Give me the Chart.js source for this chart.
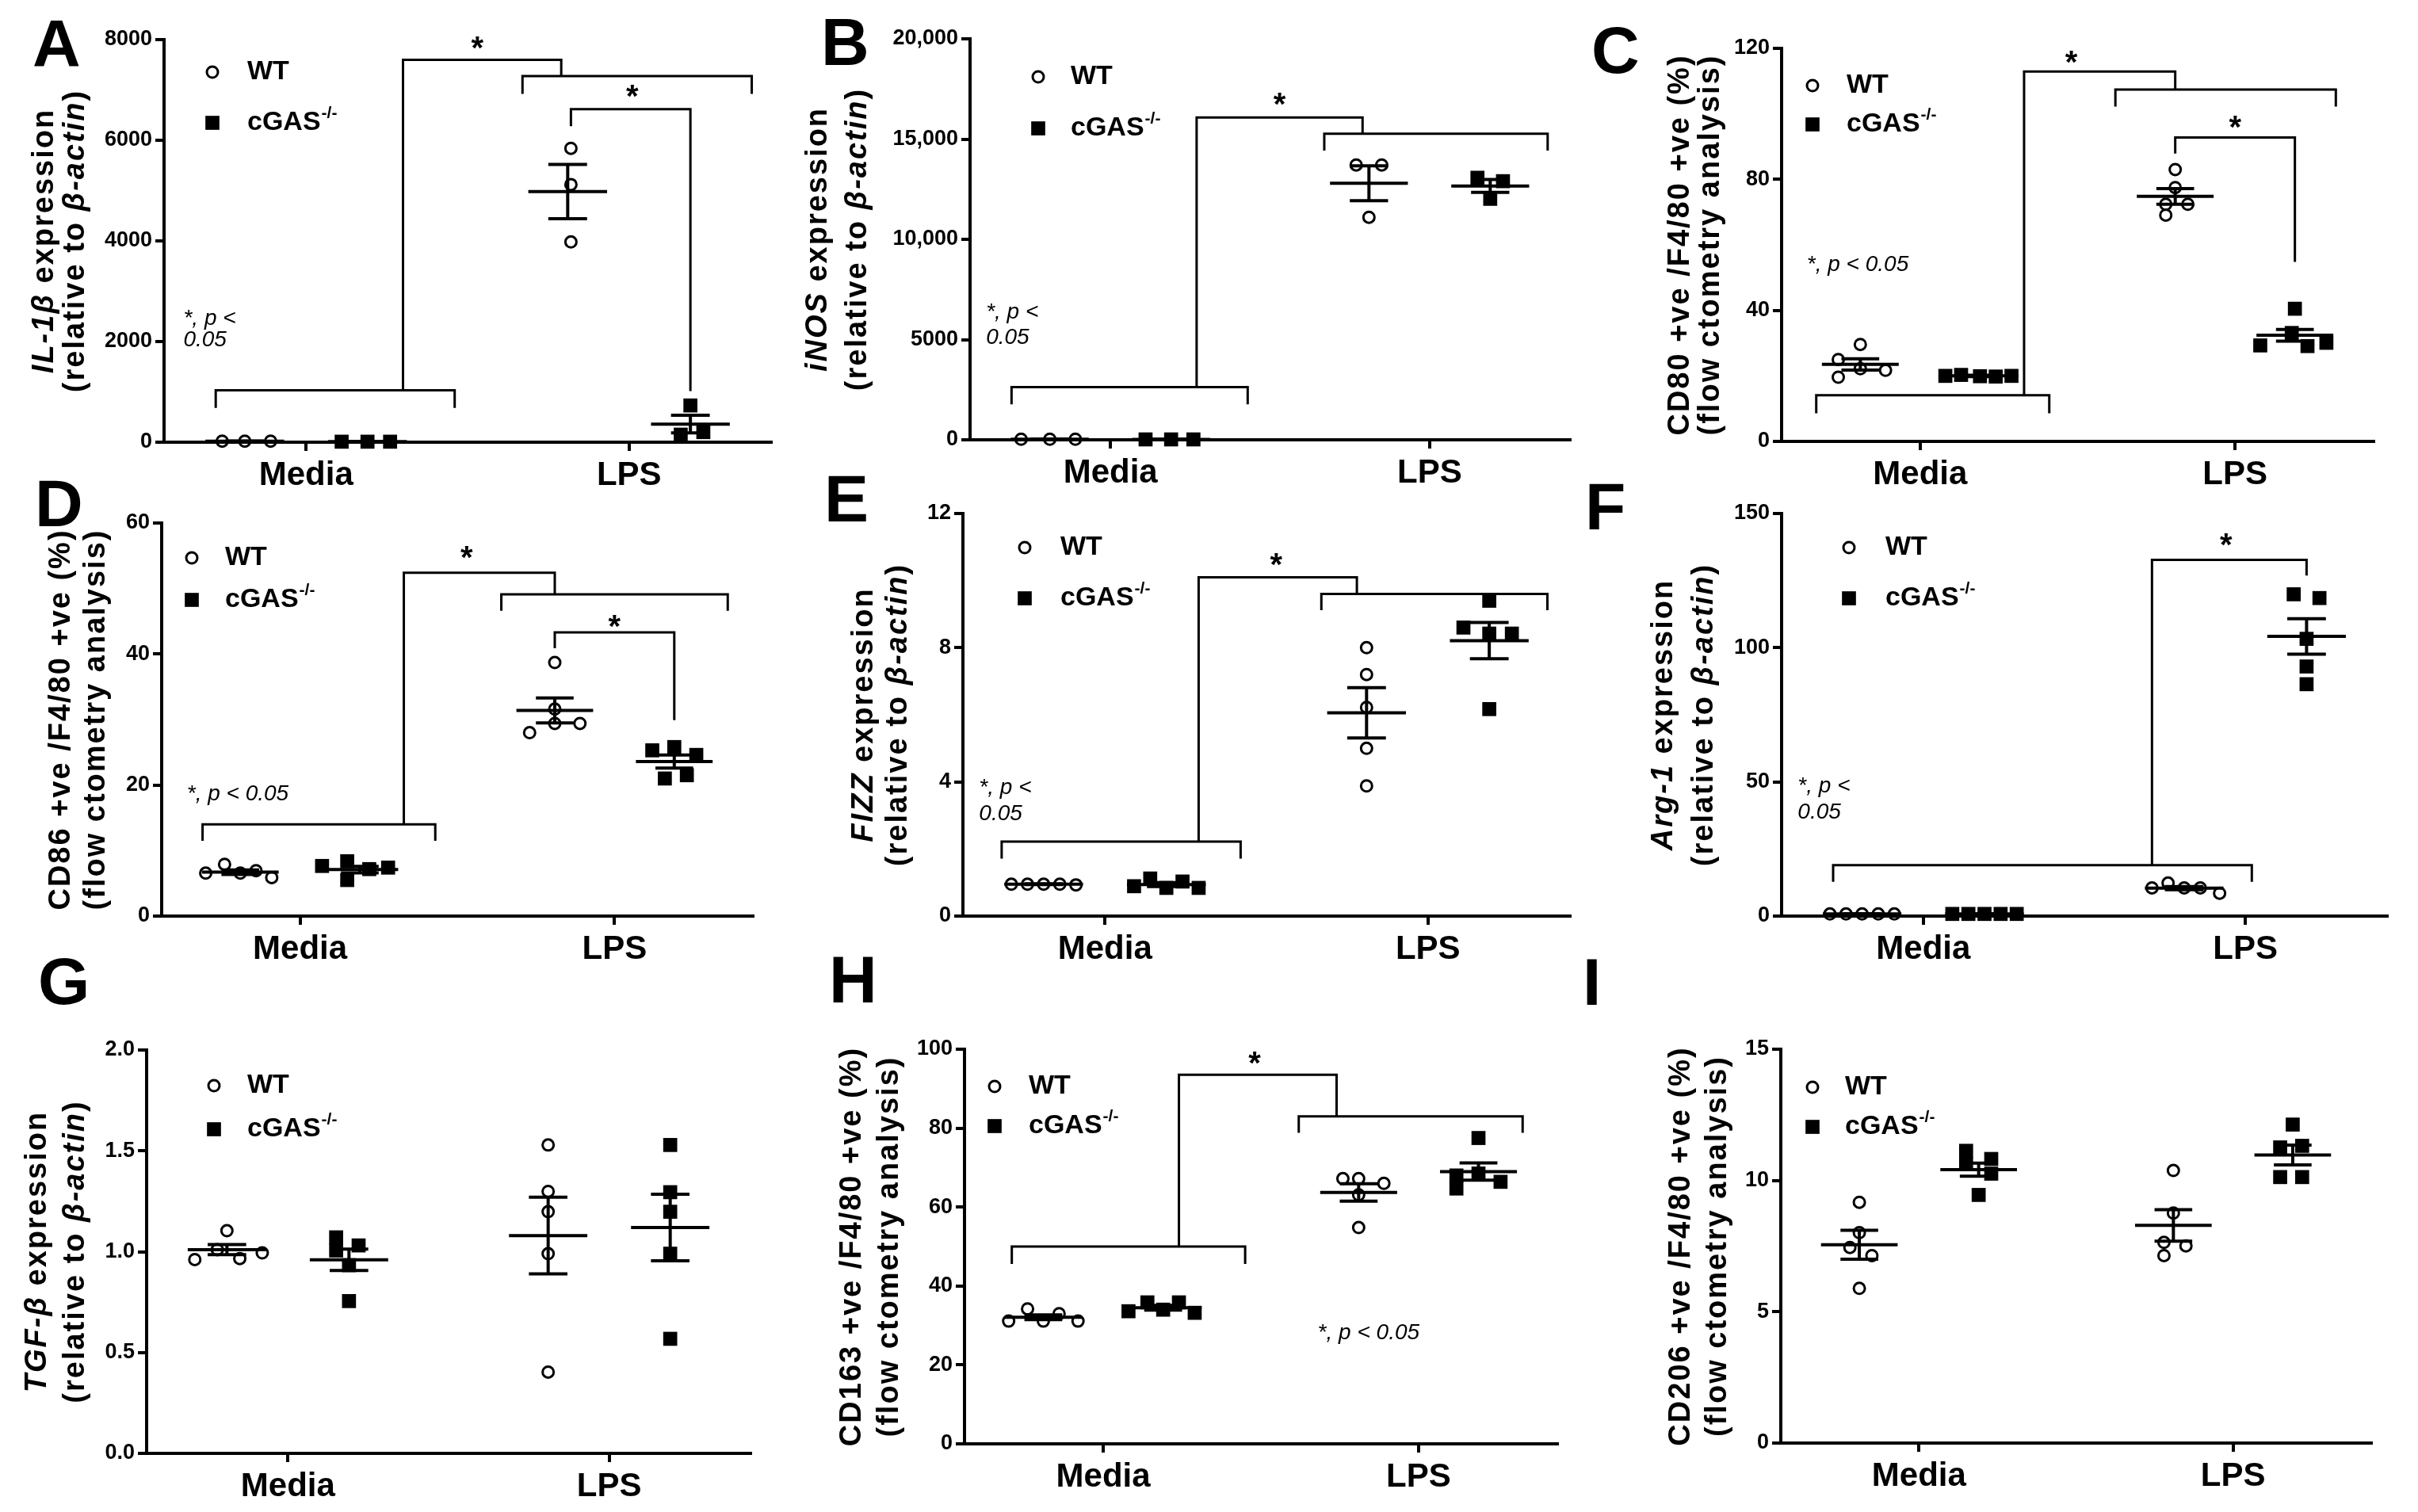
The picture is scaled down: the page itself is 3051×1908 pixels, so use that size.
<!DOCTYPE html>
<html>
<head>
<meta charset="utf-8">
<script src="https://cdn.jsdelivr.net/npm/chart.js@4.4.0/dist/chart.umd.min.js"></script>
<style>
html, body { margin: 0; padding: 0; background: #fff; }
body { width: 3051px; height: 1908px; position: relative; overflow: hidden; }
canvas { position: absolute; }
.lbl { position: absolute; font: bold 84px 'Liberation Sans', Arial, sans-serif; line-height: 84px; color: #000; }
</style>
</head>
<body>
<script>
const FONT = "'Liberation Sans', Arial, sans-serif";
const categories = ['Media', 'LPS'];
const legendLabels = ['WT', 'cGAS', '-/-'];

// --- Panel A: IL-1b ---  [Media, LPS]
const A_wt = [[20, 20, 20], [5840, 5120, 3980]];
const A_ko = [[10, 10, 10], [730, 150, 200]];
const A_wtX = [[-0.26, -0.19, -0.11], [-0.18, -0.18, -0.18]];
const A_koX = [[0.11, 0.19, 0.26], [0.19, 0.16, 0.23]];
const A_mean = [[20, 4980], [10, 360]];   // [WT, KO]
const A_sem = [[5, 540], [3, 175]];
const A_ticks = [0, 2000, 4000, 6000, 8000];
const A_tickLabels = ['0', '2000', '4000', '6000', '8000'];
const A_brackets = [
    [[-0.28, 680], [-0.28, 1030], [0.46, 1030], [0.46, 680]],
    [[0.67, 6920], [0.67, 7275], [1.38, 7275], [1.38, 6920]],
    [[0.30, 1030], [0.30, 7600], [0.79, 7600], [0.79, 7275]],
    [[0.82, 6280], [0.82, 6620], [1.19, 6620], [1.19, 1015]]
];
const A_stars = [[0.53, 7980], [1.01, 7020]];
const A_note = [['*, p <', -0.38, 2460], ['0.05', -0.38, 2030]];

// --- Panel B: iNOS ---
const B_wt = [[30, 30, 30], [13710, 13710, 11100]];
const B_ko = [[20, 20, 20], [13070, 12900, 12020]];
const B_wtX = [[-0.28, -0.19, -0.11], [-0.23, -0.15, -0.19]];
const B_koX = [[0.11, 0.19, 0.26], [0.15, 0.23, 0.19]];
const B_mean = [[30, 12800], [20, 12660]];
const B_sem = [[5, 870], [5, 320]];
const B_ticks = [0, 5000, 10000, 15000, 20000];
const B_tickLabels = ['0', '5000', '10,000', '15,000', '20,000'];
const B_brackets = [
    [[-0.31, 1770], [-0.31, 2630], [0.43, 2630], [0.43, 1770]],
    [[0.67, 14430], [0.67, 15270], [1.37, 15270], [1.37, 14430]],
    [[0.27, 2630], [0.27, 16080], [0.79, 16080], [0.79, 15270]]
];
const B_stars = [[0.53, 17100]];
const B_note = [['*, p <', -0.39, 6370], ['0.05', -0.39, 5080]];

// --- Panel C: CD80 ---
const C_wt = [[29.6, 25.0, 22.2, 19.6, 21.7], [83.0, 77.5, 72.4, 72.4, 69.1]];
const C_ko = [[20.0, 20.3, 19.9, 19.8, 20.0], [40.5, 33.1, 29.3, 29.1, 30.1]];
const C_wtX = [[-0.19, -0.26, -0.19, -0.26, -0.11], [-0.19, -0.19, -0.15, -0.22, -0.22]];
const C_koX = [[0.08, 0.13, 0.19, 0.24, 0.29], [0.19, 0.18, 0.08, 0.23, 0.29]];
const C_mean = [[23.5, 74.8], [20.0, 32.4]];
const C_sem = [[1.7, 2.4], [0.2, 1.8]];
const C_ticks = [0, 40, 80, 120];
const C_tickLabels = ['0', '40', '80', '120'];
const C_brackets = [
    [[-0.33, 8.6], [-0.33, 14.1], [0.41, 14.1], [0.41, 8.6]],
    [[0.62, 102.2], [0.62, 107.4], [1.32, 107.4], [1.32, 102.2]],
    [[0.33, 14.1], [0.33, 112.9], [0.81, 112.9], [0.81, 107.4]],
    [[0.81, 87.9], [0.81, 92.8], [1.19, 92.8], [1.19, 54.8]]
];
const C_stars = [[0.48, 118], [1.0, 98.3]];
const C_note = [['*, p < 0.05', -0.36, 54]];

// --- Panel D: CD86 ---
const D_wt = [[6.55, 7.9, 6.55, 6.93, 5.88], [38.7, 31.6, 28.0, 29.4, 29.4]];
const D_ko = [[7.65, 8.37, 5.5, 7.17, 7.4], [25.3, 25.8, 24.6, 21.0, 21.5]];
const D_wtX = [[-0.30, -0.24, -0.19, -0.14, -0.09], [-0.19, -0.19, -0.27, -0.19, -0.11]];
const D_koX = [[0.07, 0.15, 0.15, 0.22, 0.28], [0.12, 0.19, 0.26, 0.16, 0.23]];
const D_mean = [[6.7, 31.4], [7.1, 23.6]];
const D_sem = [[0.35, 1.9], [0.5, 1.0]];
const D_ticks = [0, 20, 40, 60];
const D_tickLabels = ['0', '20', '40', '60'];
const D_brackets = [
    [[-0.31, 11.5], [-0.31, 14.0], [0.43, 14.0], [0.43, 11.5]],
    [[0.64, 46.6], [0.64, 49.1], [1.36, 49.1], [1.36, 46.6]],
    [[0.33, 14.0], [0.33, 52.4], [0.81, 52.4], [0.81, 49.1]],
    [[0.81, 40.9], [0.81, 43.3], [1.19, 43.3], [1.19, 29.9]]
];
const D_stars = [[0.53, 55.9], [1.0, 45.4]];
const D_note = [['*, p < 0.05', -0.36, 18.6]];

// --- Panel E: FIZZ ---
const E_wt = [[0.95, 0.95, 0.95, 0.95, 0.93], [8.0, 7.2, 6.22, 5.0, 3.88]];
const E_ko = [[0.89, 1.12, 0.84, 1.03, 0.84], [9.4, 8.6, 8.42, 8.42, 6.17]];
const E_wtX = [[-0.29, -0.24, -0.19, -0.14, -0.09], [-0.19, -0.19, -0.19, -0.19, -0.19]];
const E_koX = [[0.09, 0.14, 0.19, 0.24, 0.29], [0.19, 0.11, 0.19, 0.26, 0.19]];
const E_mean = [[0.95, 6.06], [0.94, 8.21]];
const E_sem = [[0.01, 0.75], [0.06, 0.54]];
const E_ticks = [0, 4, 8, 12];
const E_tickLabels = ['0', '4', '8', '12'];
const E_brackets = [
    [[-0.32, 1.71], [-0.32, 2.22], [0.42, 2.22], [0.42, 1.71]],
    [[0.67, 9.12], [0.67, 9.6], [1.37, 9.6], [1.37, 9.12]],
    [[0.29, 2.22], [0.29, 10.1], [0.78, 10.1], [0.78, 9.6]]
];
const E_stars = [[0.53, 10.7]];
const E_note = [['*, p <', -0.39, 3.83], ['0.05', -0.39, 3.04]];

// --- Panel F: Arg-1 ---
const F_wt = [[0.8, 0.8, 0.8, 0.8, 0.8], [10.5, 12.3, 10.5, 10.5, 8.5]];
const F_ko = [[0.8, 0.8, 0.8, 0.8, 0.8], [119.9, 118.5, 103.3, 93.0, 86.4]];
const F_wtX = [[-0.29, -0.24, -0.19, -0.14, -0.09], [-0.29, -0.24, -0.19, -0.14, -0.08]];
const F_koX = [[0.09, 0.14, 0.19, 0.24, 0.29], [0.15, 0.23, 0.19, 0.19, 0.19]];
const F_mean = [[0.8, 10.4], [0.8, 104.2]];
const F_sem = [[0.05, 0.6], [0.05, 6.6]];
const F_ticks = [0, 50, 100, 150];
const F_tickLabels = ['0', '50', '100', '150'];
const F_brackets = [
    [[-0.28, 12.8], [-0.28, 19.0], [1.02, 19.0], [1.02, 12.8]],
    [[0.71, 19.0], [0.71, 132.7], [1.19, 132.7], [1.19, 126.9]]
];
const F_stars = [[0.94, 141.2]];
const F_note = [['*, p <', -0.39, 48.4], ['0.05', -0.39, 38.5]];

// --- Panel G: TGF-b ---
const G_wt = [[0.961, 1.01, 1.104, 0.966, 0.994], [1.529, 1.299, 1.198, 0.99, 0.403]];
const G_ko = [[1.071, 1.031, 1.006, 0.933, 0.755], [1.529, 1.295, 1.198, 0.99, 0.568]];
const G_wtX = [[-0.29, -0.22, -0.19, -0.15, -0.08], [-0.19, -0.19, -0.19, -0.19, -0.19]];
const G_koX = [[0.15, 0.22, 0.15, 0.19, 0.19], [0.19, 0.19, 0.19, 0.19, 0.19]];
const G_mean = [[1.01, 1.08], [0.96, 1.12]];
const G_sem = [[0.025, 0.19], [0.053, 0.165]];
const G_ticks = [0, 0.5, 1, 1.5, 2];
const G_tickLabels = ['0.0', '0.5', '1.0', '1.5', '2.0'];

// --- Panel H: CD163 ---
const H_wt = [[31.1, 34.2, 31.1, 33.0, 31.1], [67.2, 67.2, 66.0, 63.1, 54.8]];
const H_ko = [[33.6, 35.85, 34.0, 35.85, 33.2], [77.5, 68.0, 68.5, 66.4, 64.7]];
const H_wtX = [[-0.30, -0.24, -0.19, -0.14, -0.08], [-0.24, -0.19, -0.11, -0.19, -0.19]];
const H_koX = [[0.08, 0.14, 0.19, 0.24, 0.29], [0.19, 0.12, 0.19, 0.26, 0.12]];
const H_mean = [[32.1, 63.7], [34.5, 69.0]];
const H_sem = [[0.6, 2.2], [0.6, 2.2]];
const H_ticks = [0, 20, 40, 60, 80, 100];
const H_tickLabels = ['0', '20', '40', '60', '80', '100'];
const H_brackets = [
    [[-0.29, 45.6], [-0.29, 50.0], [0.45, 50.0], [0.45, 45.6]],
    [[0.62, 78.8], [0.62, 83.0], [1.33, 83.0], [1.33, 78.8]],
    [[0.24, 50.0], [0.24, 93.5], [0.74, 93.5], [0.74, 83.0]]
];
const H_stars = [[0.48, 98.3]];
const H_note = [['*, p < 0.05', 0.68, 28.0]];

// --- Panel I: CD206 ---
const I_wt = [[9.17, 8.01, 7.45, 7.14, 5.89], [10.38, 8.76, 7.64, 7.51, 7.14]];
const I_ko = [[11.13, 10.63, 10.82, 10.26, 9.45], [12.13, 11.26, 11.32, 10.13, 10.13]];
const I_wtX = [[-0.19, -0.19, -0.22, -0.15, -0.19], [-0.19, -0.19, -0.22, -0.15, -0.22]];
const I_koX = [[0.15, 0.15, 0.23, 0.23, 0.19], [0.19, 0.15, 0.22, 0.15, 0.22]];
const I_mean = [[7.55, 8.29], [10.41, 10.97]];
const I_sem = [[0.55, 0.6], [0.25, 0.38]];
const I_ticks = [0, 5, 10, 15];
const I_tickLabels = ['0', '5', '10', '15'];

// y axis titles: segments of [text, italic]
const REL = [['(relative to ', false], ['β-actin', true], [')', false]];
const FLOW = [['(flow ctometry analysis)', false]];

const GROUP_OFF = [-0.19, 0.19];

// chart area in page pixels: [left, top, right, bottom]
const panels = [
    { id: 'A', box: [207, 50, 973, 558], yMax: 8000, ticks: A_ticks, tickLabels: A_tickLabels, wt: A_wt, ko: A_ko, wtX: A_wtX, koX: A_koX, mean: A_mean, sem: A_sem, brackets: A_brackets, stars: A_stars, note: A_note,
      title: [[['IL-1β', true], [' expression', false]], REL], titleX: [-150, -111], legend: [61, 41, 105, 105], letter: [41, 24] },
    { id: 'B', box: [1224, 49, 1981, 555], yMax: 20000, ticks: B_ticks, tickLabels: B_tickLabels, wt: B_wt, ko: B_ko, wtX: B_wtX, koX: B_koX, mean: B_mean, sem: B_sem, brackets: B_brackets, stars: B_stars, note: B_note,
      title: [[['iNOS', true], [' expression', false]], REL], titleX: [-191, -141], legend: [86, 48, 113, 127], letter: [1036, 22] },
    { id: 'C', box: [2248, 61, 2995, 557], yMax: 120, ticks: C_ticks, tickLabels: C_tickLabels, wt: C_wt, ko: C_ko, wtX: C_wtX, koX: C_koX, mean: C_mean, sem: C_sem, brackets: C_brackets, stars: C_stars, note: C_note,
      title: [[['CD80 +ve /F4/80 +ve (%)', false]], FLOW], titleX: [-127, -89], legend: [39, 47, 96, 82], letter: [2008, 32] },
    { id: 'D', box: [204, 660, 950, 1156], yMax: 60, ticks: D_ticks, tickLabels: D_tickLabels, wt: D_wt, ko: D_ko, wtX: D_wtX, koX: D_koX, mean: D_mean, sem: D_sem, brackets: D_brackets, stars: D_stars, note: D_note,
      title: [[['CD86 +ve /F4/80 +ve (%)', false]], FLOW], titleX: [-126, -82], legend: [38, 44, 97, 80], letter: [44, 604] },
    { id: 'E', box: [1215, 648, 1981, 1156], yMax: 12, ticks: E_ticks, tickLabels: E_tickLabels, wt: E_wt, ko: E_ko, wtX: E_wtX, koX: E_koX, mean: E_mean, sem: E_sem, brackets: E_brackets, stars: E_stars, note: E_note,
      title: [[['FIZZ', true], [' expression', false]], REL], titleX: [-124, -81], legend: [78, 43, 107, 123], letter: [1040, 598] },
    { id: 'F', box: [2248, 648, 3012, 1156], yMax: 150, ticks: F_ticks, tickLabels: F_tickLabels, wt: F_wt, ko: F_ko, wtX: F_wtX, koX: F_koX, mean: F_mean, sem: F_sem, brackets: F_brackets, stars: F_stars, note: F_note,
      title: [[['Arg-1', true], [' expression', false]], REL], titleX: [-148, -97], legend: [85, 43, 107, 131], letter: [2000, 608] },
    { id: 'G', box: [185, 1325, 947, 1834], yMax: 2, ticks: G_ticks, tickLabels: G_tickLabels, wt: G_wt, ko: G_ko, wtX: G_wtX, koX: G_koX, mean: G_mean, sem: G_sem, brackets: [], stars: [], note: [],
      title: [[['TGF-β', true], [' expression', false]], REL], titleX: [-137, -89], legend: [85, 45, 100, 127], letter: [48, 1207] },
    { id: 'H', box: [1217, 1324, 1965, 1822], yMax: 100, ticks: H_ticks, tickLabels: H_tickLabels, wt: H_wt, ko: H_ko, wtX: H_wtX, koX: H_koX, mean: H_mean, sem: H_sem, brackets: H_brackets, stars: H_stars, note: H_note,
      title: [[['CD163 +ve /F4/80 +ve (%)', false]], FLOW], titleX: [-141, -94], legend: [38, 47, 97, 81], letter: [1046, 1205] },
    { id: 'I', box: [2247, 1324, 2992, 1821], yMax: 15, ticks: I_ticks, tickLabels: I_tickLabels, wt: I_wt, ko: I_ko, wtX: I_wtX, koX: I_koX, mean: I_mean, sem: I_sem, brackets: [], stars: [], note: [],
      title: [[['CD206 +ve /F4/80 +ve (%)', false]], FLOW], titleX: [-125, -79], legend: [40, 48, 98, 81], letter: [1997, 1208] }
];

const WT_POINT = { pointStyle: 'circle', radius: 7, borderWidth: 3 };
const KO_POINT = { pointStyle: 'rect', radius: 12.5, borderWidth: 0 };

// --- decorations: mean/SEM, brackets, stars, notes, legend, y title ---
const decoPlugin = {
    id: 'deco',
    afterDatasetsDraw(chart) {
        const p = chart.options.plugins.deco;
        const ctx = chart.ctx, xs = chart.scales.x, ys = chart.scales.y, area = chart.chartArea;
        const px = v => xs.getPixelForValue(v), py = v => ys.getPixelForValue(v);
        ctx.save();
        ctx.strokeStyle = '#000';
        ctx.fillStyle = '#000';

        // mean +- SEM
        ctx.lineWidth = 4;
        ctx.lineCap = 'butt';
        const seg = (x1, y1, x2, y2) => { ctx.beginPath(); ctx.moveTo(x1, y1); ctx.lineTo(x2, y2); ctx.stroke(); };
        [0, 1].forEach(g => {
            categories.forEach((c, i) => {
                const cx = i + GROUP_OFF[g], m = p.mean[g][i], s = p.sem[g][i];
                seg(px(cx - 0.122), py(m), px(cx + 0.122), py(m));
                seg(px(cx - 0.06), py(m + s), px(cx + 0.06), py(m + s));
                seg(px(cx - 0.06), py(m - s), px(cx + 0.06), py(m - s));
                seg(px(cx), py(m + s), px(cx), py(m - s));
            });
        });

        // significance brackets
        ctx.lineWidth = 3;
        ctx.lineJoin = 'miter';
        p.brackets.forEach(b => {
            ctx.beginPath();
            b.forEach(([x, y], k) => k ? ctx.lineTo(px(x), py(y)) : ctx.moveTo(px(x), py(y)));
            ctx.stroke();
        });
        ctx.font = `bold 40px ${FONT}`;
        ctx.textAlign = 'center';
        ctx.textBaseline = 'alphabetic';
        p.stars.forEach(([x, y]) => ctx.fillText('*', px(x), py(y) + 23));

        ctx.font = `italic 28px ${FONT}`;
        ctx.textAlign = 'left';
        ctx.textBaseline = 'middle';
        p.note.forEach(([t, x, y]) => ctx.fillText(t, px(x), py(y)));

        // legend (open circle for WT, filled square for cGAS-/-)
        const lg = p.legend;
        ctx.fillStyle = 'rgba(0,0,0,0)';
        Chart.helpers.drawPoint(ctx, WT_POINT, area.left + lg[0], area.top + lg[1]);
        ctx.fillStyle = '#000';
        Chart.helpers.drawPoint(ctx, KO_POINT, area.left + lg[0], area.top + lg[2]);
        ctx.font = `bold 34px ${FONT}`;
        ctx.fillText(legendLabels[0], area.left + lg[3], area.top + lg[1]);
        ctx.fillText(legendLabels[1], area.left + lg[3], area.top + lg[2]);
        const w = ctx.measureText(legendLabels[1]).width;
        ctx.font = `bold 21px ${FONT}`;
        ctx.fillText(legendLabels[2], area.left + lg[3] + w + 1, area.top + lg[2] - 12);

        // y title
        if ('letterSpacing' in ctx) ctx.letterSpacing = '2px';
        const cy = (area.top + area.bottom) / 2;
        ctx.textAlign = 'left';
        ctx.textBaseline = 'middle';
        p.title.forEach((segs, li) => {
            const f = it => `${it ? 'italic ' : ''}bold 38px ${FONT}`;
            let total = 0;
            segs.forEach(([t, it]) => { ctx.font = f(it); total += ctx.measureText(t).width; });
            ctx.save();
            ctx.translate(area.left + p.titleX[li], cy);
            ctx.rotate(-Math.PI / 2);
            let pos = -total / 2;
            segs.forEach(([t, it]) => { ctx.font = f(it); ctx.fillText(t, pos, 0); pos += ctx.measureText(t).width; });
            ctx.restore();
        });
        ctx.restore();
    }
};

function makeChart(p) {
    const [L, T, R, B] = p.box;
    const padL = 240, padT = 50, padR = 30, padB = 85;
    const cv = document.createElement('canvas');
    const w = R - L + padL + padR, h = B - T + padT + padB;
    cv.width = w; cv.height = h;
    cv.style.left = (L - padL) + 'px';
    cv.style.top = (T - padT) + 'px';
    cv.style.width = w + 'px';
    cv.style.height = h + 'px';
    document.body.appendChild(cv);

    const pts = (vals, offs) => vals.flatMap((g, i) => g.map((v, j) => ({ x: i + offs[i][j], y: v })));
    const axisGrid = { drawOnChartArea: false, drawTicks: true, tickLength: 11, lineWidth: 4, color: '#000' };
    const axisBorder = { display: true, width: 4, color: '#000' };

    new Chart(cv, {
        type: 'scatter',
        data: {
            datasets: [
                { label: 'WT', data: pts(p.wt, p.wtX), pointStyle: 'circle', pointRadius: WT_POINT.radius, pointBorderWidth: WT_POINT.borderWidth,
                  pointBorderColor: '#000', pointBackgroundColor: 'rgba(0,0,0,0)', clip: false },
                { label: 'cGAS-/-', data: pts(p.ko, p.koX), pointStyle: 'rect', pointRadius: KO_POINT.radius, pointBorderWidth: 0,
                  pointBorderColor: '#000', pointBackgroundColor: '#000', clip: false }
            ]
        },
        options: {
            responsive: false,
            animation: false,
            devicePixelRatio: 1,
            layout: { padding: { left: 0, top: padT, right: padR, bottom: 0 } },
            plugins: { legend: { display: false }, tooltip: { enabled: false }, deco: p },
            scales: {
                x: {
                    type: 'linear', min: -0.44, max: 1.44,
                    afterBuildTicks: s => { s.ticks = categories.map((c, i) => ({ value: i })); },
                    afterFit: s => { s.height = padB; },
                    ticks: { callback: (v, i) => categories[i], color: '#000', font: { family: FONT, size: 42, weight: 'bold' }, padding: 6, maxRotation: 0, autoSkip: false },
                    grid: axisGrid, border: axisBorder
                },
                y: {
                    min: 0, max: p.yMax,
                    afterBuildTicks: s => { s.ticks = p.ticks.map(v => ({ value: v })); },
                    afterFit: s => { s.width = padL; },
                    ticks: { callback: (v, i) => p.tickLabels[i], color: '#000', font: { family: FONT, size: 27, weight: 'bold' }, padding: 4, autoSkip: false },
                    grid: axisGrid, border: axisBorder
                }
            }
        },
        plugins: [decoPlugin]
    });

    const d = document.createElement('div');
    d.className = 'lbl';
    d.textContent = p.id;
    d.style.left = p.letter[0] + 'px';
    d.style.top = (p.letter[1] - 11) + 'px';
    document.body.appendChild(d);
}

panels.forEach(makeChart);
</script>
</body>
</html>
